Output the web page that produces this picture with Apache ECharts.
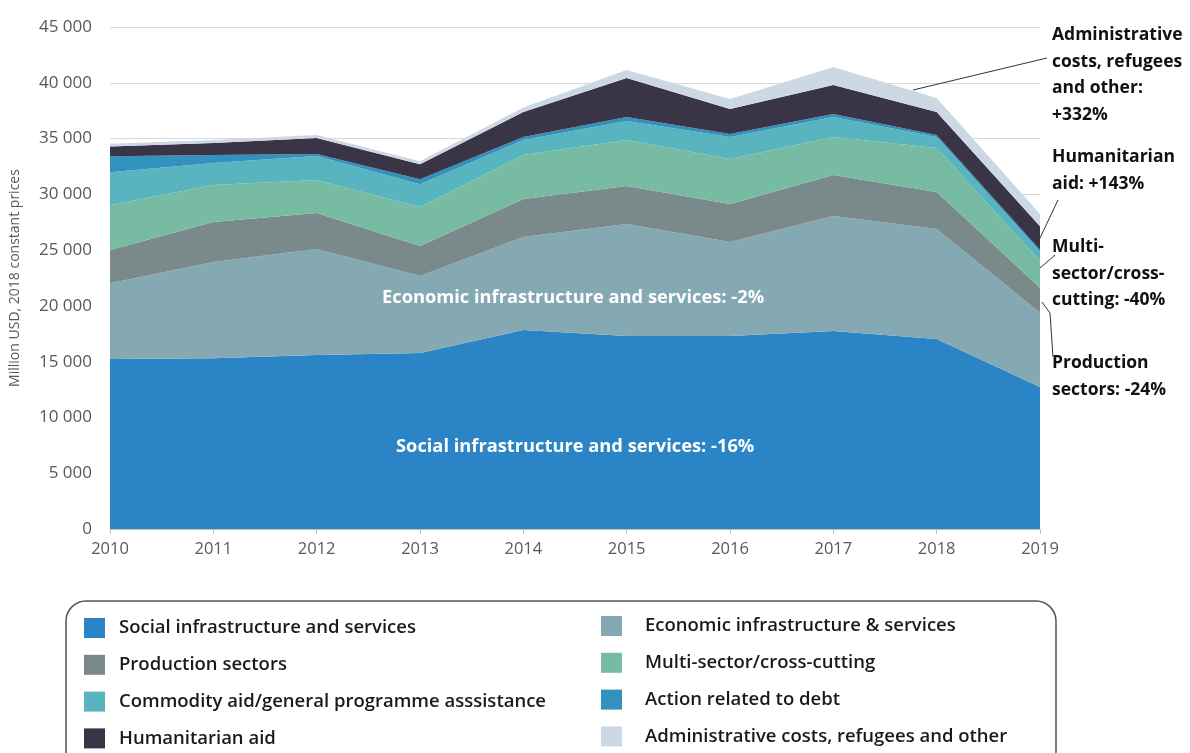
<!DOCTYPE html>
<html>
<head>
<meta charset="utf-8">
<script src="https://cdn.jsdelivr.net/npm/echarts@6/dist/echarts.min.js"></script>
<style>
  html, body { margin: 0; padding: 0; background: #ffffff; }
  #chart { width: 1190px; height: 753px; }
</style>
</head>
<body>
<div id="chart"></div>
<script>
// ODA by sector, million USD (2018 constant prices)
const years = ['2010', '2011', '2012', '2013', '2014', '2015', '2016', '2017', '2018', '2019'];

const social     = [15240, 15300, 15600, 15780, 17840, 17300, 17300, 17750, 17030, 12730];
const economic   = [6800, 8630, 9500, 6900, 8335, 10040, 8430, 10310, 9860, 6660];
const production = [2960, 3585, 3227, 2690, 3406, 3407, 3400, 3676, 3317, 2240];
const multi      = [4030, 3317, 2959, 3500, 3944, 4123, 4030, 3406, 3944, 2420];
const commodity  = [2960, 1972, 2151, 2030, 1345, 1703, 1970, 1793, 986, 800];
const debt       = [1430, 717, 179, 450, 270, 359, 270, 268, 179, 186];
const humanitarian = [870, 1076, 1434, 1350, 2240, 3496, 2240, 2600, 2062, 2114];
const admin      = [250, 269, 269, 270, 400, 717, 900, 1614, 1255, 1080];

const yTicks = { min: 0, max: 45000, interval: 5000 };

const names = [
  'Social infrastructure and services',
  'Economic infrastructure & services',
  'Production sectors',
  'Multi-sector/cross-cutting',
  'Commodity aid/general programme asssistance',
  'Action related to debt',
  'Humanitarian aid',
  'Administrative costs, refugees and other'
];
const values = [social, economic, production, multi, commodity, debt, humanitarian, admin];
const colors = ['#2a84c6', '#85a9b2', '#7a8a8a', '#76bba2', '#58b4bf', '#3291bd', '#393546', '#ccd9e4'];

const FONT = '"Open Sans", sans-serif';

const series = names.map((n, i) => ({
  name: n,
  type: 'line',
  stack: 'total',
  data: values[i],
  symbol: 'none',
  lineStyle: { width: 0 },
  areaStyle: { color: colors[i], opacity: 1 },
  itemStyle: { color: colors[i] },
  emphasis: { disabled: true },
  z: 2
}));

const legendText = (padLeft) => ({ fontFamily: FONT, fontSize: 18.5, fontWeight: 600, color: '#1a1a1a', padding: [0, 0, 0, padLeft] });

const annText = (x, y, text) => ({
  type: 'text', left: x, top: y, z: 10,
  style: { text, fontFamily: FONT, fontSize: 17.5, fontWeight: 'bold', fill: '#111111', lineHeight: 26.5 }
});
const leader = (pts) => ({
  type: 'polyline', z: 10,
  shape: { points: pts },
  style: { stroke: '#333333', lineWidth: 1, fill: null }
});
const areaLabel = (x, y, text) => ({
  type: 'text', left: x, top: y, z: 10,
  style: { text, fontFamily: FONT, fontSize: 18.3, fontWeight: 'bold', fill: '#ffffff' }
});

const chart = echarts.init(document.getElementById('chart'), null, { renderer: 'canvas' });
chart.setOption({
  animation: false,
  backgroundColor: '#ffffff',
  grid: { left: 110, right: 150, top: 27, bottom: 224, containLabel: false },
  xAxis: {
    type: 'category',
    data: years,
    boundaryGap: false,
    axisLine: { lineStyle: { color: '#bfbfbf', width: 1 } },
    axisTick: { show: true, length: 5, lineStyle: { color: '#bfbfbf' } },
    axisLabel: { color: '#595959', fontFamily: FONT, fontSize: 16.5, margin: 12 },
    splitLine: { show: false }
  },
  yAxis: {
    type: 'value',
    min: yTicks.min, max: yTicks.max, interval: yTicks.interval,
    name: 'Million USD, 2018 constant prices',
    nameLocation: 'middle',
    nameRotate: 90,
    nameGap: 88,
    nameTextStyle: { color: '#595959', fontFamily: FONT, fontSize: 14 },
    axisLine: { show: false },
    axisTick: { show: false },
    axisLabel: {
      color: '#595959', fontFamily: FONT, fontSize: 17, margin: 18,
      formatter: v => String(v).replace(/\B(?=(\d{3})+(?!\d))/g, ' ')
    },
    splitLine: { lineStyle: { color: '#d9d9d9', width: 1 } }
  },
  legend: [
    {
      orient: 'vertical', left: 79, top: 613, height: 200, itemWidth: 21, itemHeight: 20, itemGap: 16.8,
      icon: 'rect', selectedMode: false, textStyle: legendText(9),
      data: [names[0], names[2], names[4], names[6]]
    },
    {
      orient: 'vertical', left: 596, top: 611, height: 200, itemWidth: 21, itemHeight: 20, itemGap: 16.8,
      icon: 'rect', selectedMode: false, textStyle: legendText(18),
      data: [names[1], names[3], names[5], names[7]]
    }
  ],
  graphic: [
    {
      type: 'rect', z: 0,
      shape: { x: 66, y: 601, width: 990, height: 170, r: 20 },
      style: { fill: 'none', stroke: '#555555', lineWidth: 1.5 }
    },
    areaLabel(382, 289, 'Economic infrastructure and services: -2%'),
    areaLabel(396, 438, 'Social infrastructure and services: -16%'),
    annText(1052, 22, 'Administrative\ncosts, refugees\nand other:\n+332%'),
    annText(1052, 144, 'Humanitarian\naid: +143%'),
    annText(1052, 234, 'Multi-\nsector/cross-\ncutting: -40%'),
    annText(1052, 350, 'Production\nsectors: -24%'),
    leader([[913, 90], [1047, 58]]),
    leader([[1040, 238], [1058, 200]]),
    leader([[1040, 268], [1055, 255]]),
    leader([[1042, 302], [1050, 313], [1053, 357]])
  ],
  series
});
</script>
</body>
</html>
